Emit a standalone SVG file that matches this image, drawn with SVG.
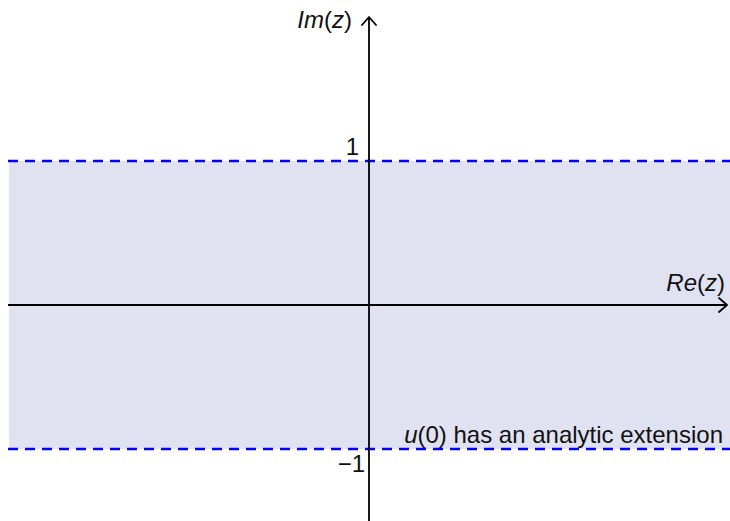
<svg xmlns="http://www.w3.org/2000/svg" width="730" height="521" viewBox="0 0 730 521">
<style>
.t{font-family:"Liberation Sans",Arial,sans-serif;font-size:24px;fill:#111}
.i{font-style:italic}
.ax{stroke:#000;stroke-width:1.8;fill:none}
.dash{stroke:#0000ff;stroke-width:2.4;stroke-dasharray:10 7;fill:none}
</style>
<defs>
<marker id="arr" viewBox="-10 -8 12 16" markerWidth="12" markerHeight="16" refX="0" refY="0" orient="auto" markerUnits="userSpaceOnUse">
<path d="M-8,-7 L0,0 L-8,7" fill="none" stroke="#000" stroke-width="1.8" stroke-linecap="round" stroke-linejoin="round"/>
</marker>
</defs>
<g id="strip">
<rect x="9" y="161" width="721" height="288" fill="#e0e2f1"/>
</g>
<g id="connectors">
<line class="dash" x1="8" y1="161" x2="730" y2="161"/>
<line class="dash" x1="8" y1="449" x2="730" y2="449"/>
<line class="ax" x1="8" y1="305" x2="727" y2="305" marker-end="url(#arr)"/>
<line class="ax" x1="369" y1="521" x2="369" y2="17" marker-end="url(#arr)"/>
</g>
<g id="labels">
<text class="t" x="352" y="28" text-anchor="end"><tspan class="i">Im</tspan>(<tspan class="i">z</tspan>)</text>
<text class="t" x="359" y="155" text-anchor="end">1</text>
<text class="t" x="725" y="291" text-anchor="end"><tspan class="i">Re</tspan>(<tspan class="i">z</tspan>)</text>
<text class="t" x="723" y="443" text-anchor="end"><tspan class="i">u</tspan>(0) has an analytic extension</text>
<text class="t" x="365" y="472" text-anchor="end">−1</text>
</g>
</svg>
